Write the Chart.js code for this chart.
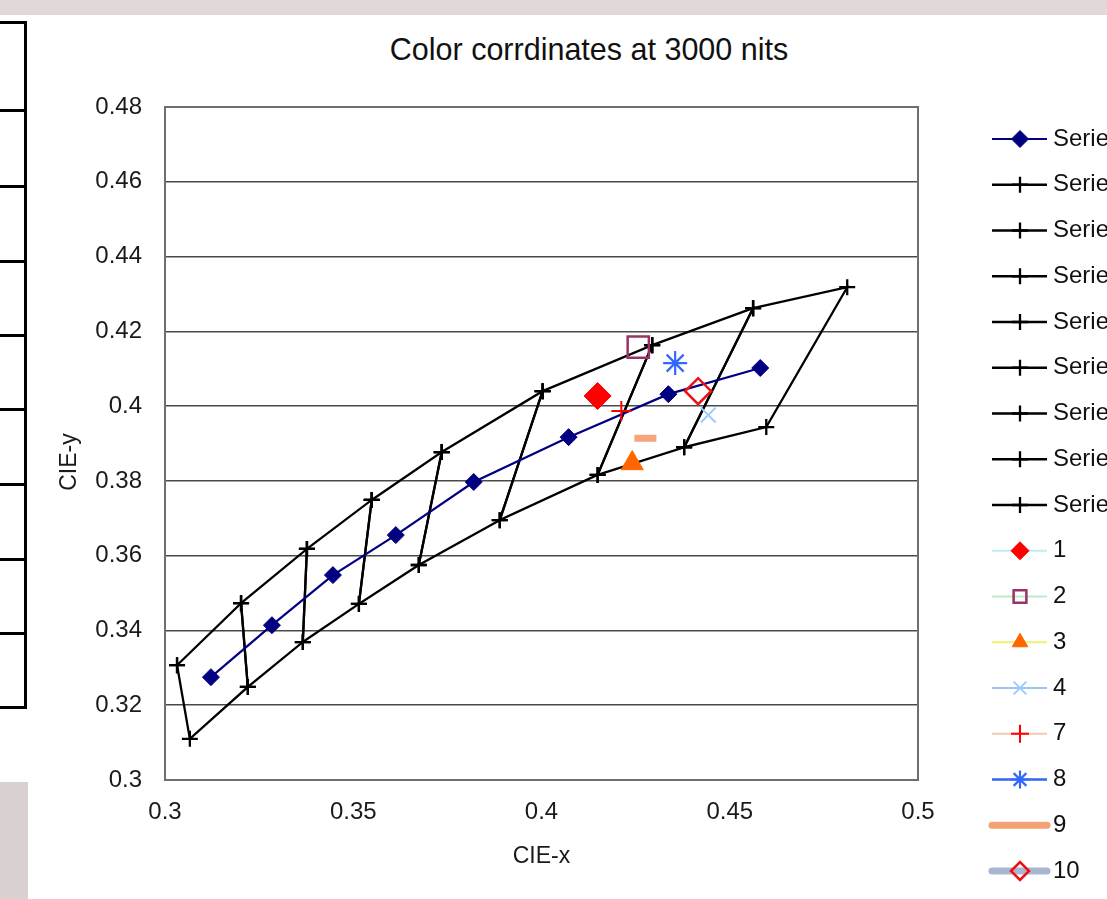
<!DOCTYPE html>
<html>
<head>
<meta charset="utf-8">
<script src="https://cdn.jsdelivr.net/npm/chart.js@4.4.1/dist/chart.umd.min.js"></script>
<style>
  html, body { margin: 0; padding: 0; background: #fff; overflow: hidden; width: 1107px; height: 899px; }
  body { position: relative; font-family: "Liberation Sans", Arial, sans-serif; }
  #topband { position: absolute; left: 0; top: 0; width: 1107px; height: 15px; background: #e0d9d7; }
  #sidebox { position: absolute; left: 0; top: 782px; width: 28px; height: 117px; background: #d9d1cf; }
  .cell-line { position: absolute; left: 0; width: 27px; height: 3px; background: #000; }
  #cell-edge { position: absolute; left: 24px; top: 21px; width: 3px; height: 688px; background: #000; }
  #title { position: absolute; left: 589px; top: 49px; transform: translate(-50%, -50%); white-space: nowrap;
           font-size: 30.5px; color: #111; }
  #wrap { position: absolute; left: 28px; top: 15px; width: 1079px; height: 884px; }
</style>
</head>
<body>
<div id="topband"></div>
<div id="cell-edge"></div>
<div id="sidebox"></div>
<div id="title">Color corrdinates at 3000 nits</div>
<div id="wrap"><canvas id="chart"></canvas></div>

<script>
// Series1: centre line of the bins
const centerX = [0.3122, 0.3284, 0.3446, 0.3613, 0.3820, 0.4072, 0.4337, 0.4581];
const centerY = [0.3275, 0.3414, 0.3548, 0.3655, 0.3797, 0.3917, 0.4032, 0.4102];

// bin corners, upper and lower edge
const upperX = [0.3032, 0.3202, 0.3377, 0.3549, 0.3735, 0.4003, 0.4294, 0.4562, 0.4812];
const upperY = [0.3307, 0.3473, 0.3618, 0.3749, 0.3877, 0.4040, 0.4163, 0.4262, 0.4318];
const lowerX = [0.3066, 0.3220, 0.3366, 0.3515, 0.3674, 0.3889, 0.4149, 0.4379, 0.4597];
const lowerY = [0.3110, 0.3249, 0.3369, 0.3471, 0.3575, 0.3695, 0.3816, 0.3890, 0.3944];

// measured samples
const sampleLabels = ['1', '2', '3', '4', '7', '8', '9', '10'];
const sampleX = [0.4149, 0.4257, 0.4241, 0.4443, 0.4212, 0.4355, 0.4276, 0.4416];
const sampleY = [0.4027, 0.4158, 0.3847, 0.3976, 0.3987, 0.4115, 0.3914, 0.4040];

const xRange = [0.3, 0.5];
const yRange = [0.3, 0.48];

// look of each sample marker (line colour is only shown in the legend)
const sampleStyles = [
  { line: '#bfeef0', lw: 2, style: 'rectRot', r: 13.5, stroke: '#ff0000', fill: '#ff0000', bw: 1 },
  { line: '#bfe9c8', lw: 2, style: 'rect', r: 15, stroke: '#993366', fill: 'rgba(0,0,0,0)', bw: 2.5 },
  { line: '#f3f06a', lw: 2, style: 'triangle', r: 12.7, stroke: '#ff6600', fill: '#ff6600', bw: 1 },
  { line: '#9cc4ee', lw: 2, style: 'crossRot', r: 10.5, stroke: '#99ccff', fill: '#99ccff', bw: 2 },
  { line: '#f3c8b2', lw: 2, style: 'cross', r: 10, stroke: '#ff0000', fill: '#ff0000', bw: 2 },
  { line: '#3366ee', lw: 2.5, style: 'star', r: 12, stroke: '#3366ff', fill: '#3366ff', bw: 2.2 },
  { line: '#f2a273', lw: 7, style: 'line', r: 11, stroke: '#f4a57a', fill: '#f4a57a', bw: 7 },
  { line: '#aab5d2', lw: 7, style: 'rectRot', r: 13, stroke: '#ee1111', fill: 'rgba(0,0,0,0)', bw: 2.5 }
];

// left-hand table fragment (page decoration)
[21, 109, 185, 260, 334, 408, 483, 558, 632, 706].forEach(top => {
  const d = document.createElement('div');
  d.className = 'cell-line';
  d.style.top = top + 'px';
  document.body.appendChild(d);
});

const FONT = '"Liberation Sans", Arial, sans-serif';

function pts(xs, ys) {
  return xs.map((x, i) => ({ x: x, y: ys[i] }));
}

const datasets = [];

datasets.push({
  label: 'Series1',
  data: pts(centerX, centerY),
  showLine: true,
  borderColor: '#000080',
  borderWidth: 2.2,
  pointStyle: 'rectRot',
  pointRadius: 8.5,
  pointBorderColor: '#000080',
  pointBackgroundColor: '#000080',
  pointBorderWidth: 1,
  order: 1
});

// each bin is a closed quadrilateral
for (let k = 0; k < upperX.length - 1; k++) {
  datasets.push({
    label: 'Series' + (k + 2),
    data: [
      { x: upperX[k], y: upperY[k] },
      { x: upperX[k + 1], y: upperY[k + 1] },
      { x: lowerX[k + 1], y: lowerY[k + 1] },
      { x: lowerX[k], y: lowerY[k] },
      { x: upperX[k], y: upperY[k] }
    ],
    showLine: true,
    borderColor: '#000',
    borderWidth: 2.3,
    pointStyle: 'cross',
    pointRadius: 8,
    pointBorderColor: '#000',
    pointBackgroundColor: '#000',
    pointBorderWidth: 2.3,
    order: 2
  });
}

sampleLabels.forEach((lab, i) => {
  const s = sampleStyles[i];
  datasets.push({
    label: lab,
    data: [{ x: sampleX[i], y: sampleY[i] }],
    showLine: false,
    borderColor: s.line,
    borderWidth: s.lw,
    pointStyle: s.style,
    pointRadius: s.r,
    pointBorderColor: s.stroke,
    pointBackgroundColor: s.fill,
    pointBorderWidth: s.bw,
    order: 0
  });
});

// grey frame round the plot area, y title sits a little below centre as in Excel
const frame = {
  id: 'frame',
  afterDatasetsDraw(chart) {
    const a = chart.chartArea, ctx = chart.ctx;
    ctx.save();
    ctx.strokeStyle = '#6e6e6e';
    ctx.lineWidth = 2;
    ctx.strokeRect(a.left, a.top, a.right - a.left, a.bottom - a.top);
    ctx.translate(42, 447);
    ctx.rotate(-Math.PI / 2);
    ctx.fillStyle = '#1a1a1a';
    ctx.font = '23px ' + FONT;
    ctx.textAlign = 'center';
    ctx.textBaseline = 'middle';
    ctx.fillText('CIE-y', 0, 0);
    ctx.restore();
  }
};

// Excel-like legend: line with marker, clipped at the page edge
const sideLegend = {
  id: 'sideLegend',
  afterDraw(chart) {
    const ctx = chart.ctx;
    chart.data.datasets.forEach((ds, i) => {
      const y = 124 + i * 45.75;
      ctx.save();
      ctx.strokeStyle = ds.borderColor;
      ctx.lineWidth = ds.borderWidth;
      ctx.lineCap = ds.borderWidth > 4 ? 'round' : 'butt';
      ctx.beginPath();
      ctx.moveTo(964, y);
      ctx.lineTo(1019, y);
      ctx.stroke();
      if (ds.pointStyle !== 'line') {
        ctx.strokeStyle = ds.pointBorderColor;
        ctx.fillStyle = ds.pointBackgroundColor;
        ctx.lineWidth = ds.pointBorderWidth;
        Chart.helpers.drawPoint(ctx, {
          pointStyle: ds.pointStyle,
          radius: Math.min(ds.pointRadius, 9),
          rotation: 0,
          borderWidth: ds.pointBorderWidth
        }, 992, y);
      }
      ctx.fillStyle = '#111';
      ctx.font = '24px ' + FONT;
      ctx.textBaseline = 'middle';
      ctx.textAlign = 'left';
      ctx.fillText(ds.label, 1025, y);
      ctx.restore();
    });
  }
};

const tickLabel = v => String(+v.toFixed(2));

new Chart(document.getElementById('chart'), {
  type: 'scatter',
  data: { datasets: datasets },
  plugins: [frame, sideLegend],
  options: {
    responsive: true,
    maintainAspectRatio: false,
    animation: false,
    layout: { padding: { top: 92, right: 189, bottom: 0, left: 0 } },
    plugins: {
      legend: { display: false },
      title: { display: false },
      tooltip: { enabled: false }
    },
    scales: {
      x: {
        type: 'linear',
        min: xRange[0],
        max: xRange[1],
        afterFit: s => { s.height = 119; },
        grid: { display: false, drawTicks: false },
        border: { display: false },
        ticks: {
          stepSize: 0.05,
          padding: 18,
          color: '#1a1a1a',
          font: { family: FONT, size: 24 },
          callback: tickLabel
        },
        title: {
          display: true,
          text: 'CIE-x',
          color: '#1a1a1a',
          font: { family: FONT, size: 23 },
          padding: { top: 0, bottom: 29 }
        }
      },
      y: {
        type: 'linear',
        min: yRange[0],
        max: yRange[1],
        afterFit: s => { s.width = 137; },
        grid: { color: '#4a4a4a', lineWidth: 1.6, drawTicks: false },
        border: { display: false },
        ticks: {
          stepSize: 0.02,
          padding: 23,
          color: '#1a1a1a',
          font: { family: FONT, size: 24 },
          callback: tickLabel
        },
        title: { display: false }
      }
    }
  }
});
</script>
</body>
</html>
